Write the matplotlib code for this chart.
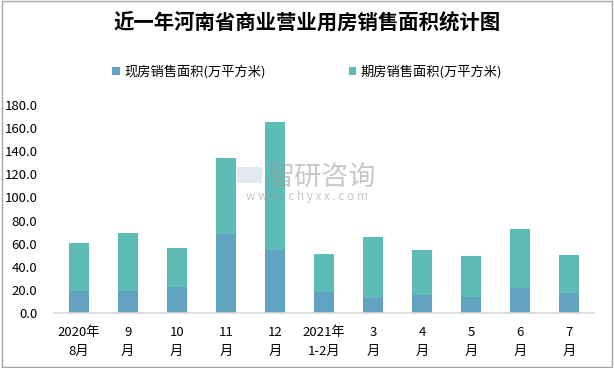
import matplotlib
matplotlib.use('Agg')
import matplotlib.pyplot as plt
from matplotlib.patches import Rectangle
import numpy as np

plt.rcParams['font.family'] = ['Noto Sans CJK SC', 'DejaVu Sans']

# 数据
months = ['2020年\n8月', '9\n月', '10\n月', '11\n月', '12\n月', '2021年\n1-2月',
          '3\n月', '4\n月', '5\n月', '6\n月', '7\n月']
spot_sales = [19.0, 19.0, 22.5, 68.4, 54.5, 18.2, 13.0, 15.6, 13.8, 21.6, 17.3]
total_sales = [60.6, 69.2, 56.2, 134.1, 165.3, 51.1, 65.8, 54.5, 49.3, 72.7, 50.2]
futures_sales = [t - s for t, s in zip(total_sales, spot_sales)]
yticks = [0, 20, 40, 60, 80, 100, 120, 140, 160, 180]

fig = plt.figure(figsize=(6.14, 3.68), dpi=100)
ax = fig.add_axes([0.088, 0.149, 0.879, 0.566])

x = np.arange(len(months))
ax.bar(x, spot_sales, width=0.41, color='#62A3C2', label='现房销售面积(万平方米)', zorder=2)
ax.bar(x, futures_sales, width=0.41, bottom=spot_sales, color='#5DBCB5',
       label='期房销售面积(万平方米)', zorder=2)

ax.set_xlim(-0.5, len(months) - 0.5)
ax.set_ylim(0, 180)
ax.set_yticks(yticks)
ax.set_yticklabels([f'{v:.1f}' for v in yticks], fontsize=9.5)
ax.set_xticks(x)
ax.set_xticklabels(months, fontsize=9.5, linespacing=1.6)
ax.tick_params(axis='x', length=0, pad=9)
ax.tick_params(axis='y', length=0, pad=12)

for side in ['top', 'right', 'left']:
    ax.spines[side].set_visible(False)
ax.spines['bottom'].set_color('#D9D9D9')
ax.spines['bottom'].set_linewidth(1.2)

fig.text(0.5, 0.94, '近一年河南省商业营业用房销售面积统计图', ha='center', va='center',
         fontsize=14.7, fontweight='bold')

fig.legend(loc='center', bbox_to_anchor=(0.5, 0.805), ncol=2, frameon=False,
           fontsize=9.5, handlelength=0.6, handleheight=0.6, handletextpad=0.3,
           columnspacing=6.3)

# 水印
fig.text(0.4365, 0.519, '智研咨询', ha='left', va='center', fontsize=19.5,
         color='#9A9A9A', alpha=0.55)
fig.text(0.5, 0.465, 'w w w . c h y x x . c o m', ha='center', va='center', fontsize=8.5,
         color='#9A9A9A', alpha=0.55)
fig.patches.append(Rectangle((0.386, 0.503), 0.04, 0.043, transform=fig.transFigure,
                             facecolor='#C8D4E6', edgecolor='none', alpha=0.5))

# 外框
fig.patches.append(Rectangle((0.003, 0.003), 0.994, 0.994, transform=fig.transFigure,
                             fill=False, edgecolor='#A6A6A6', linewidth=1))

fig.savefig('out.png', dpi=100)
